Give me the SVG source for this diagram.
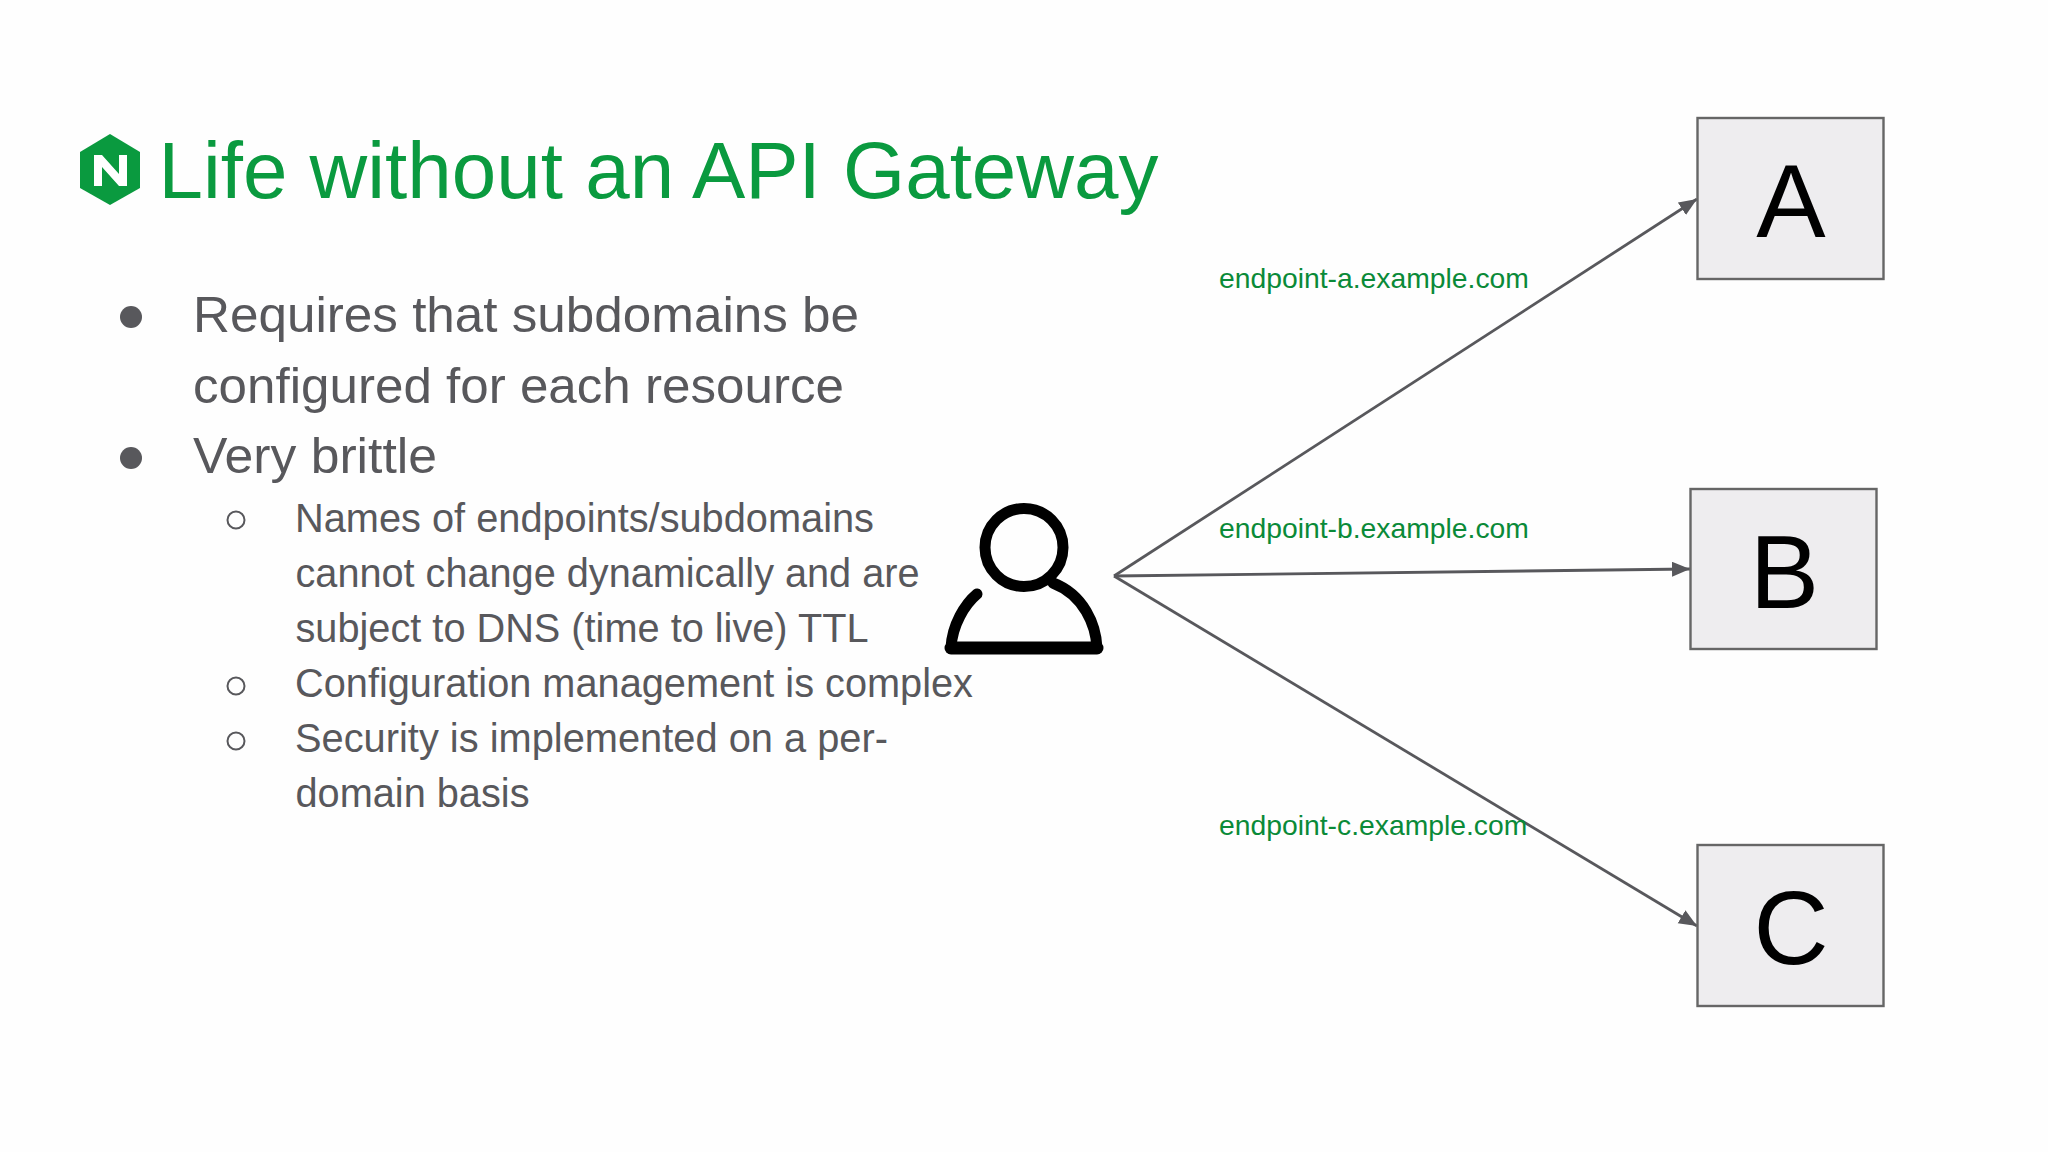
<svg xmlns="http://www.w3.org/2000/svg" width="2048" height="1152" viewBox="0 0 2048 1152">
<style>
.t{font-family:"Liberation Sans",Arial,sans-serif}
.title{font-size:80px;fill:#0a9a3f}
.b1{font-size:50px;fill:#58585c}
.b2{font-size:41px;fill:#58585c}
.ep{font-size:28.3px;fill:#0a8a38}
.box{fill:#eeedef;stroke:#666;stroke-width:2.4}
.letter{font-size:104px;fill:#000;text-anchor:middle}
.edge{fill:none;stroke:#58585c;stroke-width:2.8;marker-end:url(#arrow)}
</style>
<defs>
<marker id="arrow" markerUnits="userSpaceOnUse" markerWidth="20" markerHeight="16" refX="18" refY="7.5" orient="auto"><path d="M0 0L18 7.5L0 15Z" fill="#58585c"/></marker>
</defs>
<rect width="2048" height="1152" fill="#fefefe"/>
<g id="logo">
<path d="M110 134L140 152V188L110 205L80 188V152Z" fill="#0a9a3f"/>
<path d="M94 186V155H102L119 174V155H127V186H119L102 167V186Z" fill="#fff"/>
</g>
<g id="title"><text class="t title" x="158.500" y="198" textLength="1000" lengthAdjust="spacingAndGlyphs">Life without an API Gateway</text></g>
<g id="bullets">
<circle cx="131" cy="317" r="11" fill="#58585c"/>
<text class="t b1" x="193" y="332" textLength="666" lengthAdjust="spacingAndGlyphs">Requires that subdomains be</text>
<text class="t b1" x="193" y="403" textLength="651" lengthAdjust="spacingAndGlyphs">configured for each resource</text>
<circle cx="131" cy="458" r="11" fill="#58585c"/>
<text class="t b1" x="193" y="473" textLength="244" lengthAdjust="spacingAndGlyphs">Very brittle</text>
<circle cx="236" cy="520" r="8.5" fill="none" stroke="#58585c" stroke-width="2"/>
<text class="t b2" x="295" y="532" textLength="579" lengthAdjust="spacingAndGlyphs">Names of endpoints/subdomains</text>
<text class="t b2" x="295.500" y="587" textLength="624" lengthAdjust="spacingAndGlyphs">cannot change dynamically and are</text>
<text class="t b2" x="295.500" y="642" textLength="573" lengthAdjust="spacingAndGlyphs">subject to DNS (time to live) TTL</text>
<circle cx="236" cy="686" r="8.5" fill="none" stroke="#58585c" stroke-width="2"/>
<text class="t b2" x="295" y="697" textLength="678" lengthAdjust="spacingAndGlyphs">Configuration management is complex</text>
<circle cx="236" cy="741" r="8.5" fill="none" stroke="#58585c" stroke-width="2"/>
<text class="t b2" x="295" y="752" textLength="593" lengthAdjust="spacingAndGlyphs">Security is implemented on a per-</text>
<text class="t b2" x="295.500" y="807" textLength="234" lengthAdjust="spacingAndGlyphs">domain basis</text>
</g>
<g id="user" fill="none" stroke="#000" stroke-width="11" stroke-linecap="round" stroke-linejoin="round">
<circle cx="1024" cy="547.500" r="39"/>
<path d="M1053 583C1084 595 1096 625 1097 648H951C952 625 965 604 977 594"/>
<path d="M951 648H1097" stroke-width="13"/>
</g>
<g id="connectors">
<path class="edge" d="M1114 576L1697 199"/>
<path class="edge" d="M1114 576L1690 569"/>
<path class="edge" d="M1114 576L1697 926"/>
</g>
<g id="endpoint-labels">
<text class="t ep" x="1219" y="288">endpoint-a.example.com</text>
<text class="t ep" x="1219" y="538">endpoint-b.example.com</text>
<text class="t ep" x="1219" y="835">endpoint-c.example.com</text>
</g>
<g id="node-a"><rect class="box" x="1697.5" y="118" width="186" height="161"/><text class="t letter" x="1791" y="237">A</text></g>
<g id="node-b"><rect class="box" x="1690.5" y="489" width="186" height="160"/><text class="t letter" x="1784.500" y="608">B</text></g>
<g id="node-c"><rect class="box" x="1697.5" y="845" width="186" height="161"/><text class="t letter" x="1791" y="964">C</text></g>
</svg>
